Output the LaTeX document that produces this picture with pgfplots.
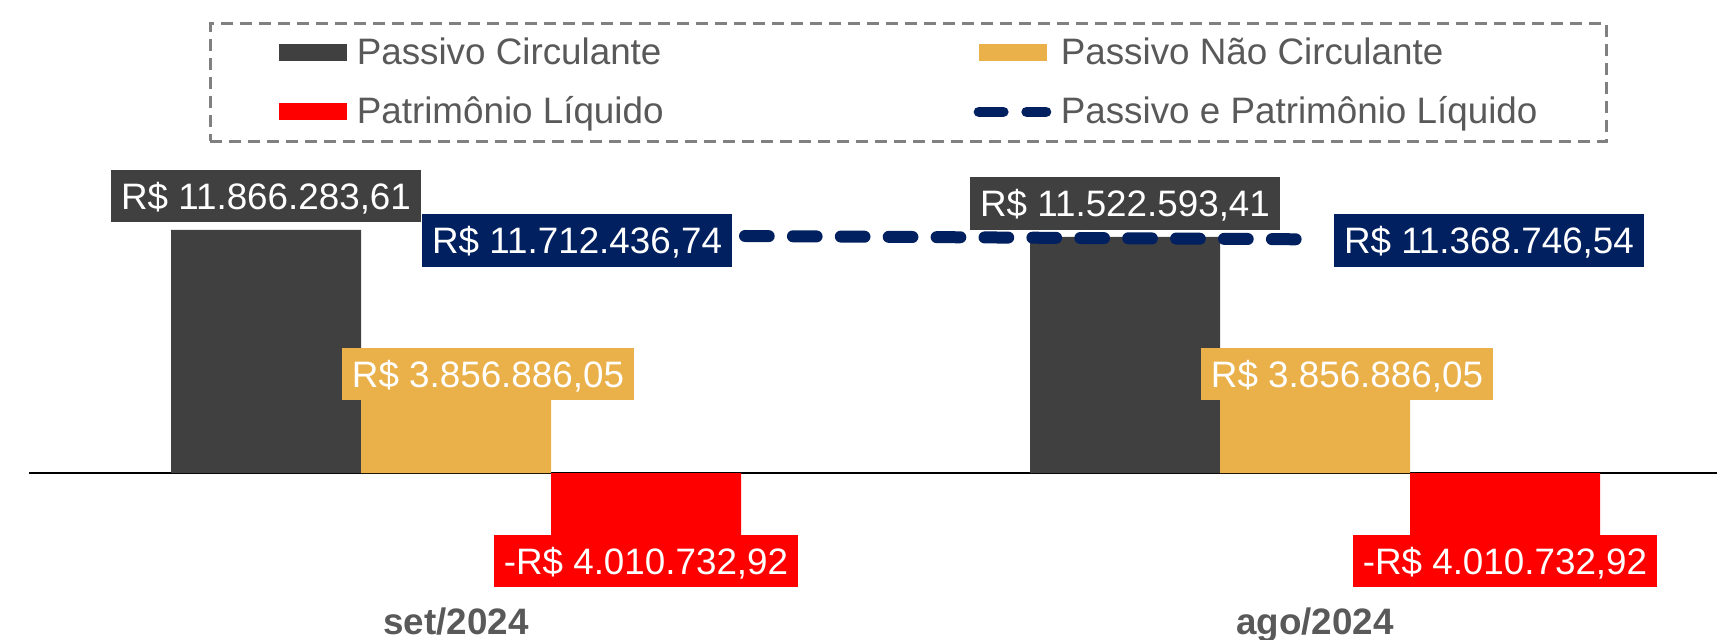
\documentclass[border=0pt]{standalone}
\usepackage{pgfplots}
\pgfplotsset{compat=1.18}
\usepackage{fontspec}
\setmainfont{Liberation Sans}
\definecolor{cDark}{HTML}{404040}
\definecolor{cGold}{HTML}{EAB04A}
\definecolor{cRed}{HTML}{FF0000}
\definecolor{cNavy}{HTML}{002060}
\definecolor{cText}{HTML}{595959}
\definecolor{cBorder}{HTML}{808080}
\newcommand{\lbl}{\fontsize{18.4}{22}\selectfont}
\tikzset{valbox/.style={font=\lbl, text=white, inner xsep=5pt, inner ysep=6.47pt, text height=13.07pt, text depth=0pt}}
\pgfplotsset{
  commonax/.style={
    at={(14.5pt,19.5pt)}, anchor=south west,
    scale only axis, width=844pt, height=227.5pt,
    xmin=-0.49709, xmax=1.46799, clip=false,
  },
}
\begin{document}
\begin{tikzpicture}
\useasboundingbox (0,0) rectangle (858.5pt,319.5pt);
\begin{axis}[commonax,
  ymin=-6198000, ymax=16008000,
  axis line style={draw=none},
  ytick=\empty,
  xtick={0,1}, xticklabels={set/2024,ago/2024},
  major tick length=0pt,
  xticklabel style={anchor=base, yshift=-17pt, font=\lbl\bfseries, text=cText},
  point meta=explicit symbolic,
  legend columns=2,
  legend cell align=left,
  legend style={at={(0.10664,1.27033)}, anchor=north west,
     draw=cBorder, line width=1.25pt, dash pattern=on 6pt off 3.5pt,
     inner xsep=34.5pt, inner ysep=7.35pt, row sep=14.63pt,
     font=\lbl, text=cText,
     nodes={inner sep=0pt, text height=13.07pt, text depth=1.8pt},
     /tikz/every odd column/.append style={column sep=4.75pt},
     /tikz/every even column/.append style={column sep=155pt},
  },
]
\draw[black, line width=1pt] (axis cs:-0.49709,0) -- (axis cs:1.46799,0);
\addplot[ybar, bar width=95pt, bar shift=-95pt, fill=cDark, draw=none,
  nodes near coords,
  every node near coord/.append style={valbox, fill=cDark, anchor=south, xshift=-95pt, yshift=3.5pt},
  legend image code/.code={\fill[cDark, draw=none] (0pt,-4.25pt) rectangle (34pt,4.25pt);}]
  coordinates {(0,11866283.61) [R\$ 11.866.283,61] (1,11522593.41) [R\$ 11.522.593,41]};
\addlegendentry{Passivo Circulante}
\addplot[ybar, bar width=95pt, bar shift=0pt, fill=cGold, draw=none,
  nodes near coords,
  every node near coord/.append style={valbox, fill=cGold, anchor=center, xshift=16pt, yshift=9.9pt},
  legend image code/.code={\fill[cGold, draw=none] (0pt,-4.25pt) rectangle (34pt,4.25pt);}]
  coordinates {(0,3856886.05) [R\$ 3.856.886,05] (1,3856886.05) [R\$ 3.856.886,05]};
\addlegendentry{Passivo Não Circulante}
\addplot[ybar, bar width=95pt, bar shift=95pt, fill=cRed, draw=none,
  nodes near coords,
  every node near coord/.append style={valbox, fill=cRed, anchor=center, xshift=95pt, yshift=-3.1pt},
  legend image code/.code={\fill[cRed, draw=none] (0pt,-4.25pt) rectangle (34pt,4.25pt);}]
  coordinates {(0,-4010732.92) [-R\$ 4.010.732,92] (1,-4010732.92) [-R\$ 4.010.732,92]};
\addlegendentry{Patrimônio Líquido}
\addlegendimage{legend image code/.code={\path[draw=none, fill=none] (0pt,-4.25pt) rectangle (34pt,4.25pt);
  \draw[cNavy, solid, line width=5.3pt, line cap=round] (0.15pt,0pt) -- (12.35pt,0pt) (24pt,0pt) -- (33.7pt,0pt);}}
\addlegendentry{Passivo e Patrimônio Líquido}
\end{axis}
\begin{axis}[commonax, hide axis, ymin=-26197910, ymax=21190030]
\addplot[cNavy, line width=6pt, line cap=round, dash pattern=on 11.85pt off 12.1pt]
  coordinates {(0.33644,11712436.74) (0.97905,11368746.54)}
  node[pos=0, anchor=east, valbox, fill=cNavy, xshift=-3.5pt, yshift=-2.25pt] {R\$ 11.712.436,74}
  node[pos=1, anchor=west, valbox, fill=cNavy, xshift=15.5pt, yshift=-0.6pt] {R\$ 11.368.746,54};
\end{axis}
\end{tikzpicture}
\end{document}
